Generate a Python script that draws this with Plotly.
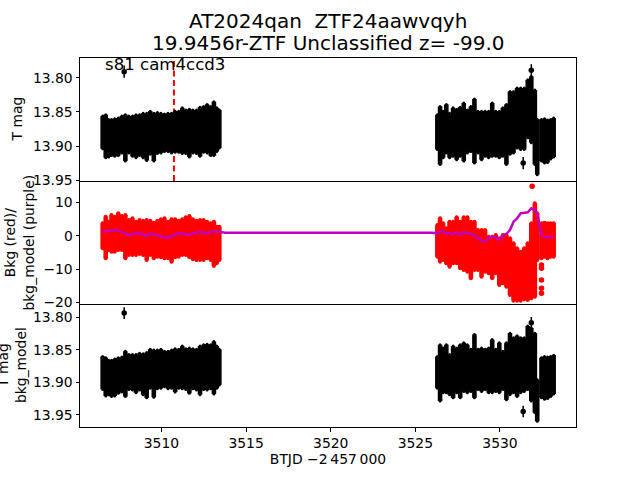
import plotly.graph_objects as go

# Observation times for each block of the light curve (BTJD - 2457000)
t_a = [3506.53, 3506.71, 3506.88, 3507.05, 3507.24, 3507.45, 3507.66, 3507.87, 3508.08, 3508.29, 3508.5, 3508.71,
       3508.92, 3509.13, 3509.34, 3509.55, 3509.76, 3509.97, 3510.18, 3510.39, 3510.6, 3510.81, 3511.02, 3511.23,
       3511.44, 3511.65, 3511.86, 3512.07, 3512.28, 3512.49, 3512.7, 3512.91, 3513.1, 3513.27, 3513.42]
t_b = [3526.3, 3526.46, 3526.64, 3526.83, 3527.02, 3527.23, 3527.44, 3527.65, 3527.86, 3528.07, 3528.28, 3528.49,
       3528.7, 3528.91, 3529.12, 3529.33, 3529.54, 3529.75, 3529.96, 3530.17, 3530.38, 3530.59, 3530.8, 3531.01,
       3531.22, 3531.43, 3531.64, 3531.85, 3532.06, 3532.2]
t_c = [3532.45, 3532.63, 3532.81, 3532.99, 3533.17]

# Top panel: T mag, bright and faint edges of the scatter
tmag_hi_a = [13.856, 13.854, 13.861, 13.861, 13.860, 13.859, 13.856, 13.854, 13.856, 13.856, 13.854, 13.854, 13.852,
             13.852, 13.849, 13.852, 13.851, 13.852, 13.853, 13.852, 13.852, 13.849, 13.849, 13.844, 13.847, 13.846,
             13.847, 13.847, 13.843, 13.842, 13.839, 13.842, 13.835, 13.844, 13.847]
tmag_lo_a = [13.904, 13.917, 13.916, 13.914, 13.915, 13.914, 13.910, 13.922, 13.910, 13.915, 13.917, 13.914, 13.917,
             13.921, 13.912, 13.922, 13.911, 13.910, 13.908, 13.908, 13.910, 13.909, 13.909, 13.911, 13.911, 13.916,
             13.910, 13.911, 13.915, 13.909, 13.910, 13.914, 13.914, 13.908, 13.903]
tmag_hi_b = [13.854, 13.842, 13.849, 13.839, 13.852, 13.844, 13.846, 13.843, 13.837, 13.847, 13.842, 13.831, 13.849,
             13.849, 13.849, 13.849, 13.837, 13.849, 13.849, 13.844, 13.839, 13.820, 13.820, 13.815, 13.815, 13.815,
             13.803, 13.798, 13.818, 13.861]
tmag_lo_b = [13.905, 13.927, 13.917, 13.910, 13.917, 13.915, 13.920, 13.915, 13.922, 13.910, 13.908, 13.925, 13.910,
             13.920, 13.915, 13.917, 13.915, 13.915, 13.917, 13.915, 13.927, 13.912, 13.910, 13.903, 13.905, 13.905,
             13.888, 13.895, 13.927, 13.942]
tmag_hi_c = [13.861, 13.860, 13.862, 13.861, 13.859]
tmag_lo_c = [13.922, 13.925, 13.924, 13.919, 13.916]
tmag_out_t = [3507.8, 3531.37, 3531.85]
tmag_out_v = [13.791, 13.925, 13.789]

# Middle panel: background flux edges and model
bkg_hi_a = [3.7, 5.7, 4.2, 6.2, 5.7, 6.7, 5.9, 6.2, 4.7, 5.2, 4.2, 4.7, 4.5, 4.7, 4.5, 3.9, 4.5, 4.9, 5.2, 4.2, 4.9,
            4.9, 4.5, 4.9, 5.5, 5.9, 4.9, 4.5, 4.7, 4.7, 4.2, 3.7, 4.2, 2.7, 2.7]
bkg_lo_a = [-3.8, -6.8, -4.3, -4.8, -4.8, -4.3, -4.3, -6.8, -5.8, -5.8, -5.8, -5.5, -5.8, -7.3, -5.8, -6.8, -6.3,
            -6.5, -6.8, -6.8, -7.8, -6.5, -6.3, -5.8, -5.8, -6.5, -7.1, -7.3, -7.3, -7.3, -6.8, -7.3, -9.1, -8.3, -7.3]
bkg_hi_b = [3.2, 5.2, 3.7, 2.2, 4.2, 4.2, 5.5, 4.2, 5.5, 5.5, 4.2, 4.2, 1.7, 1.7, 1.7, -0.3, -0.3, 0.2, -0.8, 0.2,
            0.2, -0.8, -2.3, -3.8, -4.8, -3.8, -2.3, 3.7, 9.7, 6.7]
bkg_lo_b = [-6.3, -7.8, -7.3, -8.3, -9.3, -8.3, -8.3, -9.8, -10.3, -10.8, -12.8, -10.3, -10.3, -12.3, -10.8, -11.3,
            -12.8, -11.3, -14.8, -14.3, -15.3, -17.8, -19.5, -19.5, -19.5, -19.1, -19.3, -18.8, -18.3, -7.3]
bkg_hi_c = [3.7, 3.9, 3.7, 3.7, 3.7]
bkg_lo_c = [-6.8, -6.3, -6.8, -6.3, -6.3]
bkg_out_t = [3531.9, 3532.45, 3532.45, 3532.45, 3532.45, 3532.45]
bkg_out_v = [14.8, -8.8, -9.8, -13.3, -15.8, -17.3]

model_a = [1.2, 1.3, 1.5, 1.6, 1.7, 1.5, 1.2, 0.7, 0.1, 0.4, 0.9, 0.7, 0.2, -0.1, 0.7, 0.5, 0.1, -0.3, -0.5, -0.7,
           -0.1, 0.4, 0.7, 0.7, 0.5, 0.2, 0.7, 0.9, 1.2, 0.7, 0.9, 1.0, 1.2, 1.4, 1.2]
model_gap_t = [3513.75, 3526.0]
model_gap = [0.9, 0.9]
model_b = [0.7, 1.2, 1.5, 0.5, 0.9, 0.5, 0.9, 0.2, 1.1, 0.9, 0.5, 0.2, -0.8, -1.5, -1.8, -0.5, -0.3, -0.5, -1.3, 0.2,
           0.5, 1.7, 4.2, 5.2, 6.7, 6.9, 7.0, 8.2, 7.7, 6.7]
model_c = [0.2, -0.3, -0.5, -0.3, -0.5]

# Bottom panel: T mag divided by the background model
dmag_hi_a = [13.860, 13.862, 13.866, 13.866, 13.864, 13.862, 13.861, 13.852, 13.857, 13.857, 13.857, 13.855, 13.856,
             13.854, 13.849, 13.850, 13.850, 13.849, 13.852, 13.852, 13.850, 13.848, 13.849, 13.844, 13.848, 13.847,
             13.848, 13.849, 13.844, 13.842, 13.841, 13.842, 13.837, 13.844, 13.849]
dmag_lo_a = [13.911, 13.921, 13.919, 13.922, 13.921, 13.917, 13.915, 13.922, 13.911, 13.912, 13.916, 13.912, 13.919,
             13.924, 13.909, 13.923, 13.910, 13.909, 13.907, 13.910, 13.909, 13.915, 13.909, 13.910, 13.911, 13.917,
             13.910, 13.912, 13.919, 13.911, 13.912, 13.910, 13.918, 13.909, 13.904]
dmag_hi_b = [13.860, 13.842, 13.847, 13.842, 13.857, 13.844, 13.847, 13.842, 13.839, 13.842, 13.849, 13.826, 13.849,
             13.847, 13.849, 13.847, 13.834, 13.849, 13.839, 13.852, 13.839, 13.824, 13.831, 13.828, 13.831, 13.831,
             13.813, 13.816, 13.824, 13.896]
dmag_lo_b = [13.909, 13.929, 13.916, 13.916, 13.919, 13.924, 13.916, 13.924, 13.914, 13.916, 13.914, 13.924, 13.911,
             13.914, 13.911, 13.916, 13.916, 13.914, 13.916, 13.911, 13.927, 13.919, 13.916, 13.922, 13.916, 13.914,
             13.911, 13.929, 13.947, 13.960]
dmag_hi_c = [13.862, 13.860, 13.861, 13.860, 13.858]
dmag_lo_c = [13.924, 13.926, 13.925, 13.922, 13.918]
dmag_out_t = [3507.8, 3531.37, 3531.85]
dmag_out_v = [13.793, 13.945, 13.808]

event_t = 3510.74
title_lines = ["AT2024qan  ZTF24aawvqyh", "19.9456r-ZTF Unclassified z= -99.0"]
field_label = "s81 cam4ccd3"
x_label = "BTJD \u22122\u2009457\u2009000"
tmag_ticks = [13.80, 13.85, 13.90, 13.95]
bkg_ticks = [10, 0, -10, -20]
bkg_tick_text = ["10", "0", "\u221210", "\u221220"]
x_ticks = [3510, 3515, 3520, 3525, 3530]

XR = [3505.19, 3534.49]
Y1 = [13.9512, 13.771]
Y2 = [-20.5, 16.4]
Y3 = [13.969, 13.779]


def columns(times, hi, lo):
    xs, ys = [], []
    for t, h, l in zip(times, hi, lo):
        xs += [t, t, None]
        ys += [h, l, None]
    return xs, ys


def band(t_lists, hi_lists, lo_lists, color, axis, msize=3, lw=4.6):
    xs, ys = [], []
    for t, h, l in zip(t_lists, hi_lists, lo_lists):
        a, b = columns(t, h, l)
        xs += a
        ys += b
    return go.Scatter(x=xs, y=ys, mode="lines+markers", line=dict(color=color, width=lw),
                      marker=dict(color=color, size=msize), connectgaps=False,
                      xaxis="x" + axis, yaxis="y" + axis, showlegend=False, hoverinfo="skip")


def outliers(t, v, color, axis, msize=5.5, err=None):
    ey = dict(type="constant", value=err, color=color, thickness=1.5, width=0) if err else None
    return go.Scatter(x=t, y=v, mode="markers", marker=dict(color=color, size=msize), error_y=ey,
                      xaxis="x" + axis, yaxis="y" + axis, showlegend=False, hoverinfo="skip")


fig = go.Figure()
fig.add_trace(go.Scatter(x=[event_t, event_t], y=Y1, mode="lines", line=dict(color="#ff0000", width=2, dash="6px,3.5px"),
                         xaxis="x", yaxis="y", showlegend=False, hoverinfo="skip"))
fig.add_trace(band([t_a, t_b, t_c], [tmag_hi_a, tmag_hi_b, tmag_hi_c], [tmag_lo_a, tmag_lo_b, tmag_lo_c], "black", ""))
fig.add_trace(outliers(tmag_out_t, tmag_out_v, "black", "", err=0.009))
fig.add_trace(band([t_a, t_b, t_c], [bkg_hi_a, bkg_hi_b, bkg_hi_c], [bkg_lo_a, bkg_lo_b, bkg_lo_c], "#ff0000", "2", msize=4))
fig.add_trace(outliers(bkg_out_t, bkg_out_v, "#ff0000", "2"))
fig.add_trace(go.Scatter(x=t_a + model_gap_t + t_b + t_c, y=model_a + model_gap + model_b + model_c, mode="lines",
                         line=dict(color="#bf00bf", width=2.5), xaxis="x2", yaxis="y2", showlegend=False, hoverinfo="skip"))
fig.add_trace(band([t_a, t_b, t_c], [dmag_hi_a, dmag_hi_b, dmag_hi_c], [dmag_lo_a, dmag_lo_b, dmag_lo_c], "black", "3"))
fig.add_trace(outliers(dmag_out_t, dmag_out_v, "black", "3", err=0.009))

font = dict(family="DejaVu Sans", size=13.9, color="black")
title_font = dict(family="DejaVu Sans", size=20, color="black")
ax = dict(showgrid=False, zeroline=False, showline=True, linecolor="black", linewidth=1, mirror=True,
          tickcolor="black", tickwidth=1, ticklen=3.5, tickfont=font)

annots = [
    dict(text=title_lines[0], xref="paper", yref="paper", x=0.4990, y=1.0, xanchor="center", yanchor="middle", yshift=37,
         showarrow=False, font=title_font),
    dict(text=title_lines[1], xref="paper", yref="paper", x=0.4990, y=1.0, xanchor="center", yanchor="middle", yshift=15.5,
         showarrow=False, font=title_font),
    dict(text=field_label, xref="paper", yref="paper", x=0.0465, y=1.0, xanchor="left", yanchor="top", yshift=5,
         showarrow=False, font=dict(family="DejaVu Sans", size=16.6, color="black")),
    dict(text="T mag", xref="paper", yref="paper", x=-0.127, y=5 / 6, xanchor="center", yanchor="middle",
         textangle=-90, showarrow=False, font=font),
    dict(text="Bkg (red)/<br>bkg_model (purple)", xref="paper", yref="paper", x=-0.123, y=0.5, xanchor="center",
         yanchor="middle", textangle=-90, showarrow=False, font=font),
    dict(text="T mag<br>bkg_model", xref="paper", yref="paper", x=-0.138, y=1 / 6, xanchor="center",
         yanchor="middle", textangle=-90, showarrow=False, font=font),
]

fig.update_layout(
    width=640, height=480, paper_bgcolor="white", plot_bgcolor="white",
    margin=dict(l=80, r=64, t=57.6, b=52.8, pad=0),
    font=font, annotations=annots, showlegend=False,
    xaxis=dict(ax, domain=[0, 1], range=XR, anchor="y", showticklabels=False, ticks=""),
    xaxis2=dict(ax, domain=[0, 1], range=XR, anchor="y2", showticklabels=False, ticks="", mirror=False),
    xaxis3=dict(ax, domain=[0, 1], range=XR, anchor="y3", ticks="outside", tickvals=x_ticks, mirror=False,
                title=dict(text=x_label, font=font, standoff=4)),
    yaxis=dict(ax, domain=[2 / 3, 1], range=Y1, anchor="x", ticks="outside", tickvals=tmag_ticks, tickformat=".2f"),
    yaxis2=dict(ax, domain=[1 / 3, 2 / 3], range=Y2, anchor="x2", ticks="outside", tickvals=bkg_ticks, ticktext=bkg_tick_text),
    yaxis3=dict(ax, domain=[0, 1 / 3], range=Y3, anchor="x3", ticks="outside", tickvals=tmag_ticks, tickformat=".2f"),
)

fig.write_html("out.html", config=dict(displayModeBar=False),
               post_script="document.body.style.margin='0';window.dispatchEvent(new Event('resize'));")
